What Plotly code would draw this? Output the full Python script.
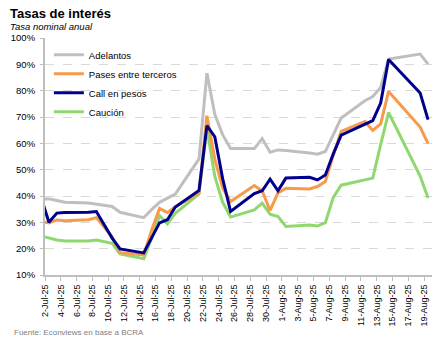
import plotly.graph_objects as go

dates = ["2025-07-01", "2025-07-02", "2025-07-03", "2025-07-04", "2025-07-07", "2025-07-08",
         "2025-07-10", "2025-07-11", "2025-07-14", "2025-07-15", "2025-07-16", "2025-07-17",
         "2025-07-18", "2025-07-21", "2025-07-22", "2025-07-23", "2025-07-24", "2025-07-25",
         "2025-07-28", "2025-07-29", "2025-07-30", "2025-07-31", "2025-08-01", "2025-08-04",
         "2025-08-05", "2025-08-06", "2025-08-07", "2025-08-08", "2025-08-11", "2025-08-12",
         "2025-08-13", "2025-08-14", "2025-08-18", "2025-08-19"]

adelantos = [38.9, 38.9, 38.3, 37.6, 37.3, 36.9, 36.0, 33.8, 31.8, 34.8, 37.6, 39.2,
             40.7, 54.1, 86.7, 71.0, 63.2, 58.0, 58.0, 61.8, 56.6, 57.5, 57.3, 56.3,
             55.9, 56.9, 63.6, 69.6, 76.2, 77.8, 81.2, 92.0, 93.9, 90.1]
pases = [30.2, 29.8, 30.9, 30.6, 31.0, 31.8, 24.5, 18.5, 17.6, 27.0, 35.3, 33.7,
         35.9, 41.1, 70.5, 54.0, 43.0, 37.9, 44.0, 41.9, 34.5, 41.2, 42.9, 42.7,
         43.6, 45.5, 55.5, 64.5, 68.3, 64.9, 67.4, 79.7, 66.2, 59.9]
call = [39.4, 30.0, 33.5, 33.7, 33.8, 34.1, 24.0, 19.9, 18.4, 24.0, 29.8, 31.0,
        35.8, 42.1, 66.7, 62.5, 46.5, 34.1, 40.9, 42.0, 46.4, 42.0, 46.8, 47.1,
        46.1, 48.0, 56.0, 63.1, 67.4, 68.6, 75.3, 91.8, 79.1, 69.0]
caucion = [24.8, 24.1, 23.3, 22.9, 22.9, 23.3, 22.0, 18.0, 16.2, 24.0, 32.6, 29.4,
           33.4, 40.8, 65.8, 47.4, 37.6, 32.0, 34.7, 37.3, 33.1, 32.2, 28.4, 29.0,
           28.6, 29.9, 39.5, 44.1, 46.0, 46.8, 59.5, 71.7, 47.6, 39.2]

names = ["Adelantos", "Pases entre terceros", "Call en pesos", "Caución"]
colors = ["#BFBFBF", "#F79A4B", "#00008C", "#8FD870"]
series = [adelantos, pases, call, caucion]

fig = go.Figure()
draw_order = [0, 3, 1, 2]
for i in draw_order:
    fig.add_trace(go.Scatter(
        x=dates, y=series[i], name=names[i], mode="lines",
        line=dict(color=colors[i], width=3),
        xperiod=86400000, xperiodalignment="middle",
        legendrank=i + 1,
    ))

font_fam = "Liberation Sans, Arial, sans-serif"
fig.update_layout(
    width=443, height=340,
    margin=dict(l=38, r=11, t=38, b=65),
    paper_bgcolor="white", plot_bgcolor="white",
    font=dict(family=font_fam, size=9, color="#000000"),
    showlegend=True,
    legend=dict(x=0.01, y=0.99, xanchor="left", yanchor="top",
                bgcolor="rgba(255,255,255,0)", font=dict(size=9.5, color="#000"),
                tracegroupgap=0, itemwidth=30),
)
fig.add_annotation(text="<b>Tasas de interés</b>", xref="paper", yref="paper",
                   x=-38/394, y=1 + 34/237, xanchor="left", yanchor="top",
                   showarrow=False, font=dict(size=13, color="#000"))
fig.add_annotation(text="<i>Tasa nominal anual</i>", xref="paper", yref="paper",
                   x=-38/394, y=1 + 19/237, xanchor="left", yanchor="top",
                   showarrow=False, font=dict(size=9.5, color="#000"))
fig.add_annotation(text="Fuente: Econviews en base a BCRA", xref="paper", yref="paper",
                   x=-34/394, y=-51/237, xanchor="left", yanchor="top",
                   showarrow=False, font=dict(size=8, color="#808080"))

fig.update_xaxes(
    type="date",
    range=["2025-07-02", "2025-08-20"],
    tick0="2025-07-02", dtick=2 * 86400000,
    tickformat="%-d-%b-%y", tickangle=-90,
    showgrid=False, showline=True, linecolor="#BFBFBF", linewidth=2,
    ticks="outside", ticklen=4, tickcolor="#BFBFBF", tickwidth=1,
    tickfont=dict(size=9, color="#000"),
)
fig.update_yaxes(
    range=[10, 100], dtick=10, ticksuffix="%",
    showgrid=True, gridcolor="#D9D9D9", griddash="dash", gridwidth=1,
    showline=True, linecolor="#BFBFBF", linewidth=2,
    ticks="outside", ticklen=3, tickcolor="#BFBFBF",
    ticklabelstandoff=3,
    tickfont=dict(size=9.5, color="#000"), zeroline=False,
)

fig.write_html("out.html")
